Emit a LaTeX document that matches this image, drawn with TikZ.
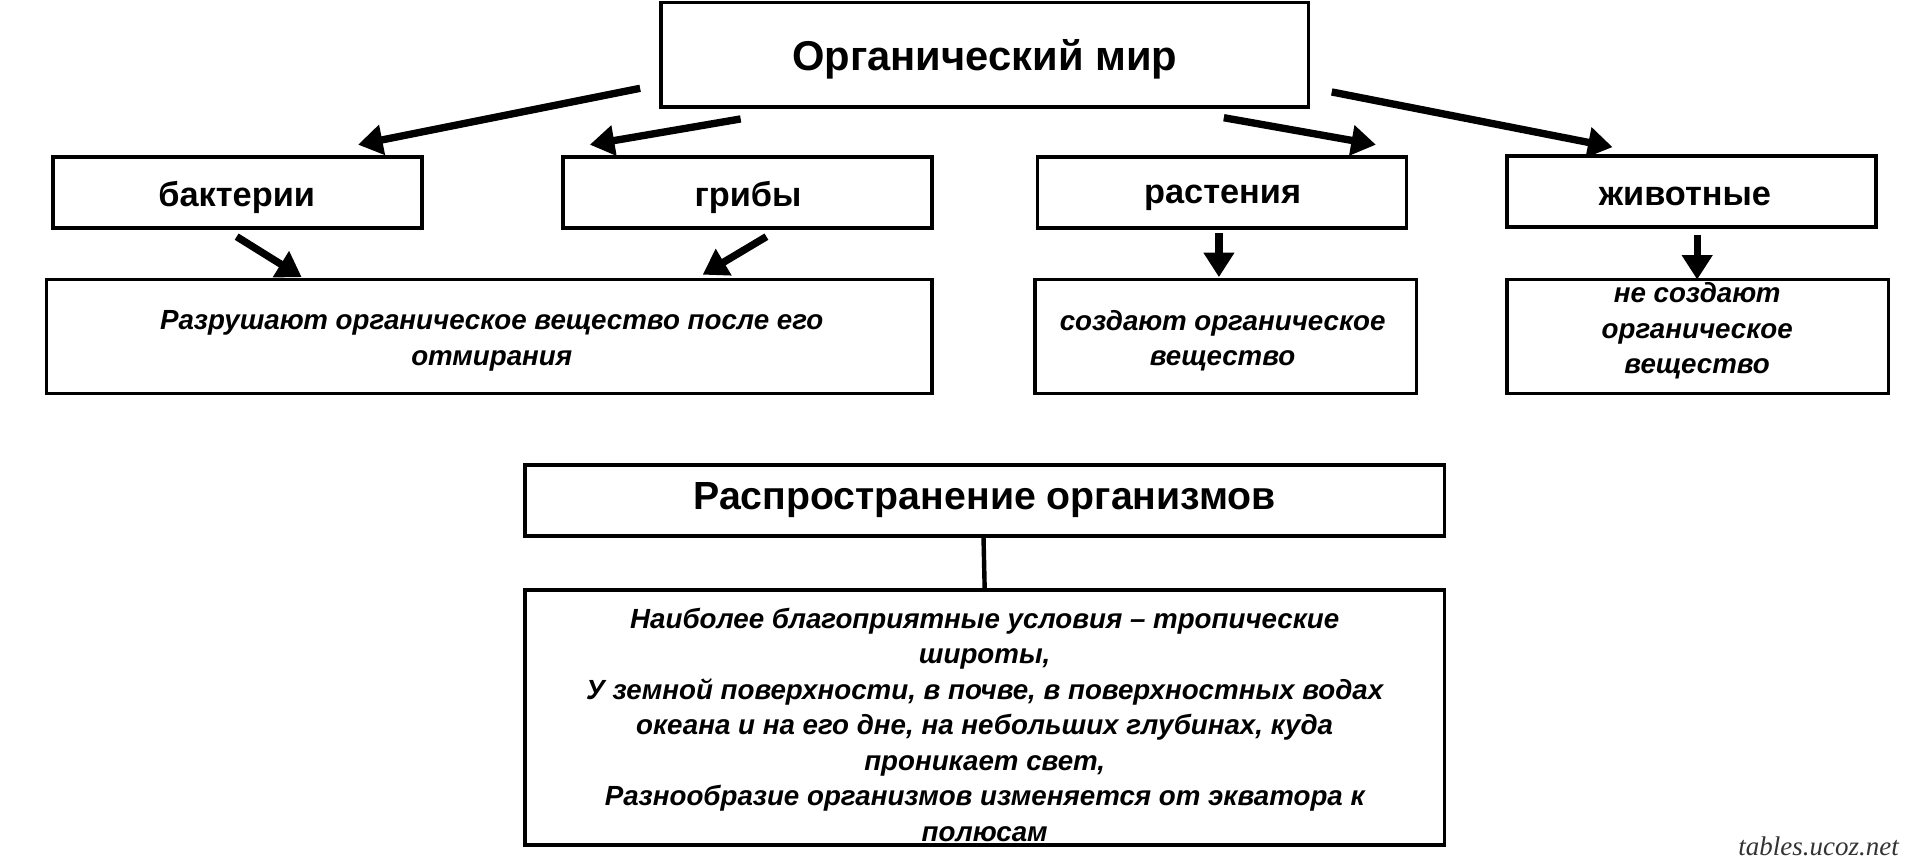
\documentclass[tikz,border=0pt]{standalone}
\usepackage{fontspec}
\setmainfont{Liberation Sans}
\newfontfamily\wmfont{Liberation Serif}
\usetikzlibrary{arrows.meta}
\begin{document}
\begin{tikzpicture}[x=0.5pt,y=-0.5pt,
  bx/.style={draw,line width=1.5pt},
  arr/.style={line width=3pt,-{Triangle[length=10pt,width=12pt]}},
  big/.style={font=\fontsize{17}{20}\selectfont\bfseries},
  mid/.style={font=\fontsize{14}{17}\selectfont\bfseries},
  sm/.style={font=\fontsize{11.3}{14.5}\selectfont\bfseries\itshape,align=center}]
\useasboundingbox (0,0) rectangle (1560,705);
\draw[bx] (539,2) rectangle (1067,87);
\node[big] (om) at (803,48) {Органический мир};
\coordinate (omb) at (803,87);
\draw[bx] (43,128) rectangle (344,186); \node[mid] (b) at (193,161) {бактерии};
\draw[bx] (459,128) rectangle (760,186); \node[mid] (g) at (610,161) {грибы};
\draw[bx] (846,128) rectangle (1147,186); \node[mid] (r) at (997,161) {растения};
\draw[bx] (1229,127) rectangle (1530,185); \node[mid] (z) at (1374,160) {животные};
\draw[bx] (38,228) rectangle (760,321);
\node[sm] (t1) at (401,278) {Разрушают органическое вещество после его\\отмирания};
\draw[bx] (844,228) rectangle (1155,321);
\node[sm] (t2) at (997,278) {создают органическое\\вещество};
\draw[bx] (1229,228) rectangle (1540,321);
\node[sm] (t3) at (1384,270) {не создают\\органическое\\вещество};
\draw[bx] (428,379) rectangle (1178,437);
\node[mid,font=\fontsize{16}{19}\selectfont\bfseries] (ro) at (803,408) {Распространение организмов};
\draw[bx] (428,481) rectangle (1178,689);
\node[sm] (t4) at (803,591) {Наиболее благоприятные условия – тропические\\широты,\\У земной поверхности, в почве, в поверхностных водах\\океана и на его дне, на небольших глубинах, куда\\проникает свет,\\Разнообразие организмов изменяется от экватора к\\полюсам};
\coordinate (a1s) at (522,72); \coordinate (a1e) at (292,118);
\coordinate (a2s) at (604,97); \coordinate (a2e) at (481,118);
\coordinate (a3s) at (998,96); \coordinate (a3e) at (1122,118);
\coordinate (a4s) at (1086,75); \coordinate (a4e) at (1315,120);
\draw[arr] (a1s) -- (a1e);
\draw[arr] (a2s) -- (a2e);
\draw[arr] (a3s) -- (a3e);
\draw[arr] (a4s) -- (a4e);
\coordinate (b1s) at (193,193); \coordinate (b1e) at (246,226);
\coordinate (b2s) at (625,193); \coordinate (b2e) at (573,224);
\coordinate (b3s) at (994,190); \coordinate (b3e) at (994,226);
\coordinate (b4s) at (1384,192); \coordinate (b4e) at (1384,228);
\draw[arr] (b1s) -- (b1e);
\draw[arr] (b2s) -- (b2e);
\draw[arr] (b3s) -- (b3e);
\draw[arr] (b4s) -- (b4e);
\coordinate (l1) at (802,437); \coordinate (l2) at (803,481);
\draw[line width=1.8pt] (l1) -- (l2);
\node[font=\fontsize{11}{13}\selectfont\wmfont\itshape,text=black!80] (wm) at (1483,690) {tables.ucoz.net};
\end{tikzpicture}
\end{document}
